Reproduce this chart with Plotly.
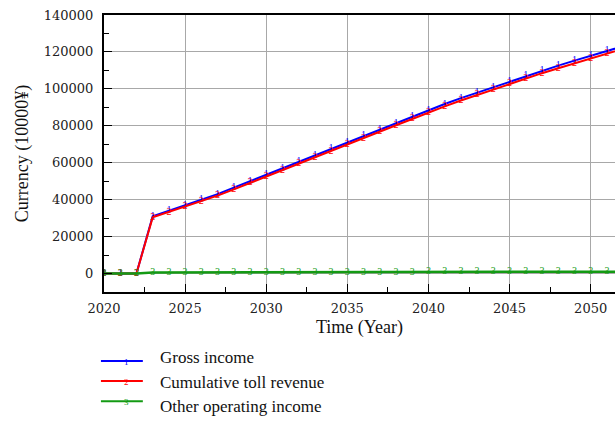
import plotly.graph_objects as go

# Simulation years
years = list(range(2020, 2053))

# Revenue series (10000 yuan)
gross_income = [0, 0, 0, 31000, 34000, 37000, 40000, 43000, 46500, 50000,
                53500, 57000, 60500, 64000, 67500, 71000, 74500, 78000, 81500, 85000,
                88500, 91800, 95000, 98000, 101000, 104000, 107000, 109800, 112600, 115300,
                118000, 120600, 123100]
toll_revenue = [0, 0, 0, 30400, 33300, 36300, 39200, 42200, 45600, 49100,
                52500, 56000, 59400, 62900, 66300, 69800, 73300, 76800, 80300, 83700,
                87300, 90500, 93700, 96700, 99700, 102700, 105600, 108500, 111200, 113900,
                116600, 119200, 121700]
other_income = [0, 0, 0, 600, 600, 600, 600, 600, 600, 600,
                600, 600, 600, 600, 600, 600, 600, 600, 600, 600,
                1000, 1000, 1000, 1000, 1000, 1000, 1000, 1000, 1000, 1000,
                1000, 1000, 1000]

series_names = ["Gross income", "Cumulative toll revenue", "Other operating income"]
series_colors = ["#0000ff", "#ff0000", "#139a13"]
series_marks = ["1", "2", "3"]
series_values = [gross_income, toll_revenue, other_income]
series_widths = [2, 2, 2.5]

SERIF = "Liberation Serif"
TICKFONT = dict(family="DejaVu Serif", size=13, color="#222222")
X_END = 2051.5

fig = go.Figure()
for name, col, mk, vals, w in zip(series_names, series_colors, series_marks,
                                  series_values, series_widths):
    fig.add_trace(go.Scatter(
        x=years, y=vals, name=name, mode="lines+text",
        line=dict(color=col, width=w),
        text=[mk if yr <= X_END else "" for yr in years],
        textposition="middle center",
        textfont=dict(family=SERIF, size=10, color=col),
        showlegend=False, cliponaxis=True,
    ))

fig.update_layout(
    width=615, height=421,
    margin=dict(l=104, r=0, t=15, b=129),
    paper_bgcolor="white", plot_bgcolor="white",
    xaxis=dict(
        range=[2020, X_END], tick0=2020, dtick=5,
        showgrid=True, gridcolor="#a8a8a8", gridwidth=1.3,
        showline=True, linecolor="black", linewidth=2, mirror=True,
        ticks="inside", ticklen=8, tickcolor="black", tickwidth=1.3,
        minor=dict(dtick=2.5, tick0=2020, ticks="inside", ticklen=5,
                   tickcolor="black", showgrid=False),
        tickfont=TICKFONT, zeroline=False, ticklabelstandoff=3,
        title=dict(text="Time (Year)", font=dict(family=SERIF, size=18, color="#111111"),
                   standoff=6),
    ),
    yaxis=dict(
        range=[-10000, 140000], tick0=0, dtick=20000,
        showgrid=True, gridcolor="#a8a8a8", gridwidth=1.3,
        showline=True, linecolor="black", linewidth=2, mirror=False,
        ticks="inside", ticklen=8, tickcolor="black", tickwidth=1.3,
        minor=dict(dtick=10000, tick0=0, ticks="inside", ticklen=5,
                   tickcolor="black", showgrid=False),
        tickfont=TICKFONT, zeroline=False, tickformat="d",
        ticklabelstandoff=6,
        title=dict(text="Currency (10000¥)", font=dict(family=SERIF, size=18, color="#111111"),
                   standoff=10),
    ),
)

# Legend drawn below the plot: short coloured line with its series number, then the name
legend_y = [-0.249, -0.321, -0.394]
text_y = [-0.235, -0.325, -0.415]
for name, col, mk, ly, ty in zip(series_names, series_colors, series_marks, legend_y, text_y):
    fig.add_shape(type="line", xref="paper", yref="paper",
                  x0=-0.006, x1=0.076, y0=ly, y1=ly,
                  line=dict(color=col, width=2))
    fig.add_annotation(xref="paper", yref="paper", x=0.035, y=ly, text=mk,
                       showarrow=False, yanchor="middle",
                       font=dict(family=SERIF, size=9, color=col), yshift=-1)
    fig.add_annotation(xref="paper", yref="paper", x=0.106, y=ty, text=name,
                       xanchor="left", yanchor="middle", showarrow=False,
                       font=dict(family=SERIF, size=17, color="#111111"))

fig.write_html("out.html")
